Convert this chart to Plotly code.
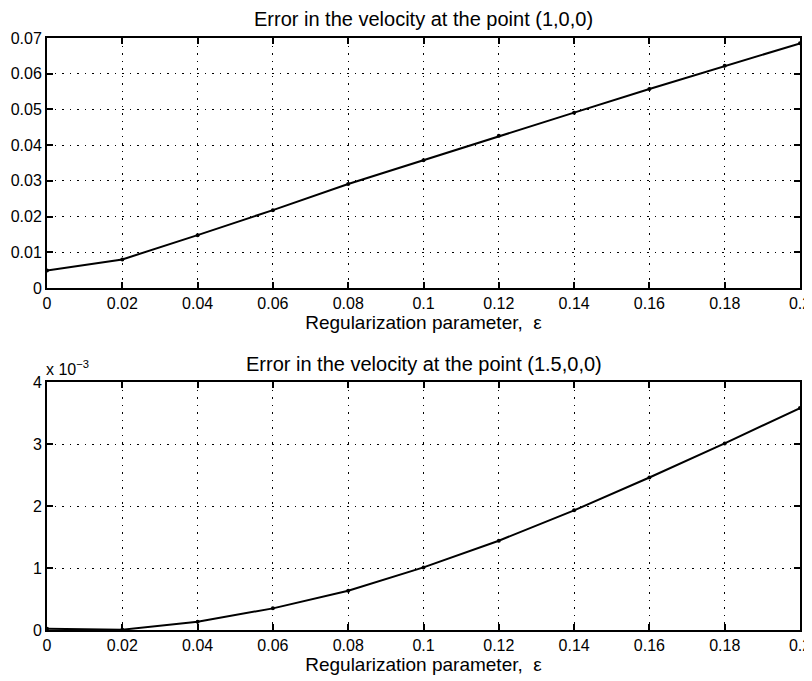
import plotly.graph_objects as go
from plotly.subplots import make_subplots

eps = [0, 0.02, 0.04, 0.06, 0.08, 0.10, 0.12, 0.14, 0.16, 0.18, 0.20]
err_100 = [0.0049, 0.0080, 0.0148, 0.0218, 0.0291, 0.0358, 0.0426, 0.0491, 0.0557, 0.0622, 0.0685]
err_150 = [0.00002, 0.000005, 0.000134, 0.000349, 0.000634, 0.00101, 0.00144, 0.00193, 0.00246, 0.00301, 0.00358]

title_top = "Error in the velocity at the point (1,0,0)"
title_bot = "Error in the velocity at the point (1.5,0,0)"
xlabel = "Regularization parameter,  ε"

x_ticks = [0, 0.02, 0.04, 0.06, 0.08, 0.1, 0.12, 0.14, 0.16, 0.18, 0.2]
x_ticktext = ["0", "0.02", "0.04", "0.06", "0.08", "0.1", "0.12", "0.14", "0.16", "0.18", "0.2"]
y1_ticks = [0, 0.01, 0.02, 0.03, 0.04, 0.05, 0.06, 0.07]
y1_ticktext = ["0", "0.01", "0.02", "0.03", "0.04", "0.05", "0.06", "0.07"]
y2_ticks = [0, 0.001, 0.002, 0.003, 0.004]
y2_ticktext = ["0", "1", "2", "3", "4"]

FONT = "Liberation Sans, Arial, Helvetica, sans-serif"

fig = make_subplots(rows=2, cols=1, vertical_spacing=0.0)

line_style = dict(color="black", width=2)
marker_style = dict(color="black", size=4)

fig.add_trace(go.Scatter(x=eps, y=err_100, mode="lines+markers", line=line_style,
                         marker=marker_style, showlegend=False, cliponaxis=False), row=1, col=1)
fig.add_trace(go.Scatter(x=eps, y=err_150, mode="lines+markers", line=line_style,
                         marker=marker_style, showlegend=False, cliponaxis=False), row=2, col=1)

axis_common = dict(
    showline=True, linecolor="black", linewidth=2, mirror="ticks",
    ticks="inside", ticklen=6, tickwidth=2, tickcolor="black",
    showgrid=True, gridcolor="black", gridwidth=1.2, griddash="1.5px,6px",
    zeroline=False, automargin=False,
    tickfont=dict(family=FONT, size=16, color="black"),
)

fig.update_xaxes(**axis_common, range=[0, 0.2], tickvals=x_ticks, ticktext=x_ticktext,
                 ticklabeloverflow="allow",
                 title=dict(text=xlabel, font=dict(family=FONT, size=19, color="black"), standoff=2))
fig.update_yaxes(**axis_common)

fig.update_yaxes(range=[0, 0.07], tickvals=y1_ticks, ticktext=y1_ticktext, row=1, col=1)
fig.update_yaxes(range=[0, 0.004], tickvals=y2_ticks, ticktext=y2_ticktext, row=2, col=1)

# page has an 8px body margin; figure sized so that it ends at the window edge
W, H = 804, 673
top_px, bot_px = 30, 622        # plot-area bounds in figure coordinates
top2_px, botA_px = 374, 280
h = bot_px - top_px
d_top = (bot_px - botA_px) / h
d_bot = (bot_px - top2_px) / h

fig.update_layout(
    width=W, height=H,
    margin=dict(l=39, r=12, t=top_px, b=H - bot_px, autoexpand=False),
    paper_bgcolor="white", plot_bgcolor="white",
    font=dict(family=FONT, color="black"),
    xaxis=dict(domain=[0, 1]),
    yaxis=dict(domain=[d_top, 1.0]),
    xaxis2=dict(domain=[0, 1]),
    yaxis2=dict(domain=[0.0, d_bot]),
)

fig.add_annotation(text=title_top, xref="paper", yref="paper", x=0.5, y=1.0, yshift=6,
                   xanchor="center", yanchor="bottom", showarrow=False,
                   font=dict(family=FONT, size=20, color="black"))
fig.add_annotation(text=title_bot, xref="paper", yref="paper", x=0.5, y=d_bot, yshift=5,
                   xanchor="center", yanchor="bottom", showarrow=False,
                   font=dict(family=FONT, size=20, color="black"))
fig.add_annotation(text="x 10<sup>−3</sup>", xref="paper", yref="paper", x=0.0, y=d_bot,
                   yshift=2, xshift=-3,
                   xanchor="left", yanchor="bottom", showarrow=False,
                   font=dict(family=FONT, size=16, color="black"))

fig.write_html("out.html")
